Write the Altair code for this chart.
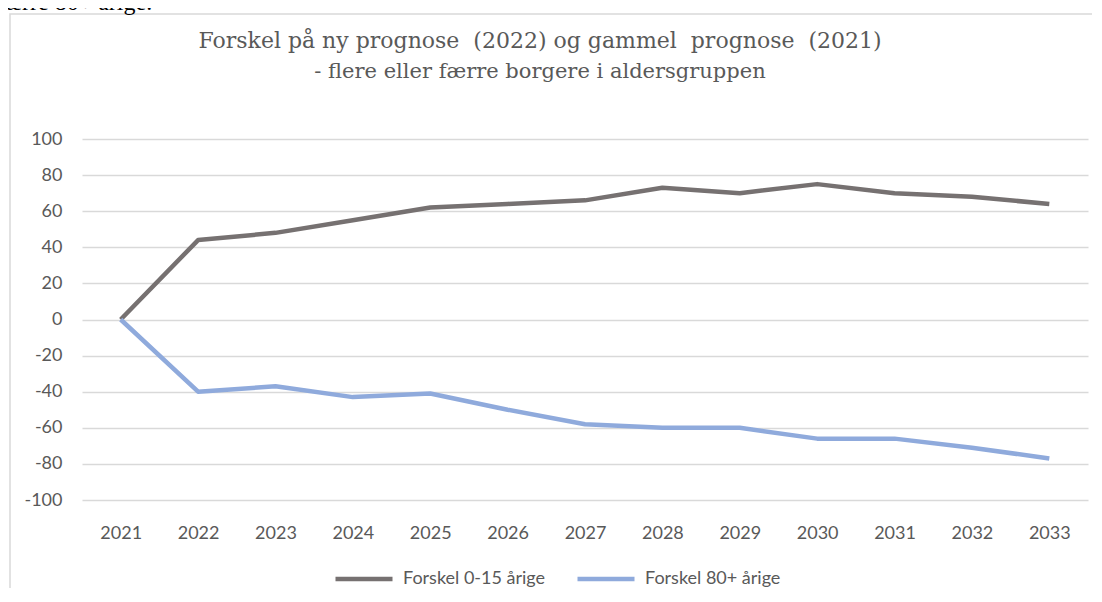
import altair as alt
import pandas as pd

years = [str(y) for y in range(2021, 2034)]
young = [0, 44, 48, 55, 62, 64, 66, 73, 70, 75, 70, 68, 64]
old = [0, -40, -37, -43, -41, -50, -58, -60, -60, -66, -66, -71, -77]
series_names = ["Forskel 0-15 årige", "Forskel 80+ årige"]
series_colors = ["#767171", "#8FAADC"]
title_line1 = "Forskel på ny prognose \u00a0(2022) og gammel \u00a0prognose \u00a0(2021)"
title_line2 = "- flere eller færre borgere i aldersgruppen"
y_ticks = list(range(-100, 101, 20))
fragment = "færre 80+ årige."

rows = []
for i, yr in enumerate(years):
    rows.append({"year": yr, "serie": series_names[0], "value": young[i]})
    rows.append({"year": yr, "serie": series_names[1], "value": old[i]})
df = pd.DataFrame(rows)

W, H = 1006, 361
PL, PT = 74, 131
PR = 1084 - PL - W
PB = 580 - PT - H

lines = alt.Chart(df).mark_line(strokeWidth=4.5, strokeCap="butt", strokeJoin="round").encode(
    x=alt.X("year:O", sort=years, title=None,
            axis=alt.Axis(labelAngle=0, ticks=False, domain=False, grid=False,
                          labelPadding=24, labelFontSize=18, labelColor="#595959",
                          labelFont="Lato")),
    y=alt.Y("value:Q", title=None,
            scale=alt.Scale(domain=[-100, 100], nice=False, zero=False),
            axis=alt.Axis(values=y_ticks, ticks=False, domain=False, grid=True,
                          gridColor="#D9D9D9", gridWidth=1.3, labelPadding=20,
                          labelExpr="'' + datum.value",
                          labelFontSize=18, labelColor="#595959", labelFont="Lato")),
    color=alt.Color("serie:N", title=None,
                    scale=alt.Scale(domain=series_names, range=series_colors),
                    legend=alt.Legend(orient="none", legendX=251, legendY=409,
                                      direction="horizontal", symbolType="stroke",
                                      symbolSize=3249, symbolStrokeWidth=4.5,
                                      labelFontSize=18, labelColor="#595959",
                                      labelFont="Lato", labelOffset=8,
                                      columnPadding=22)),
)

one = pd.DataFrame({"k": [0]})

border = alt.Chart(one).mark_rect(
    filled=False, stroke="#D9D9D9", strokeWidth=1.5
).encode(x=alt.value(-72), x2=alt.value(1300), y=alt.value(-125), y2=alt.value(800))

frag = alt.Chart(one).mark_text(
    text=fragment, font="Liberation Serif", fontSize=24, align="left",
    baseline="alphabetic", color="black"
).encode(x=alt.value(-84), y=alt.value(-129))

t1 = alt.Chart(one).mark_text(
    text=title_line1, font="DejaVu Serif", fontSize=22, align="center",
    baseline="alphabetic", color="#595959"
).encode(x=alt.value(458), y=alt.value(-91))

t2 = alt.Chart(one).mark_text(
    text=title_line2, font="DejaVu Serif", fontSize=21, align="center",
    baseline="alphabetic", color="#595959"
).encode(x=alt.value(458), y=alt.value(-61))

chart = alt.layer(border, frag, t1, t2, lines).properties(
    width=W, height=H,
    autosize=alt.AutoSizeParams(type="none"),
    padding={"left": PL, "top": PT, "right": PR, "bottom": PB},
    background="white",
).configure_view(stroke=None)

chart.save("out.html", embed_options={"renderer": "svg", "actions": False})
